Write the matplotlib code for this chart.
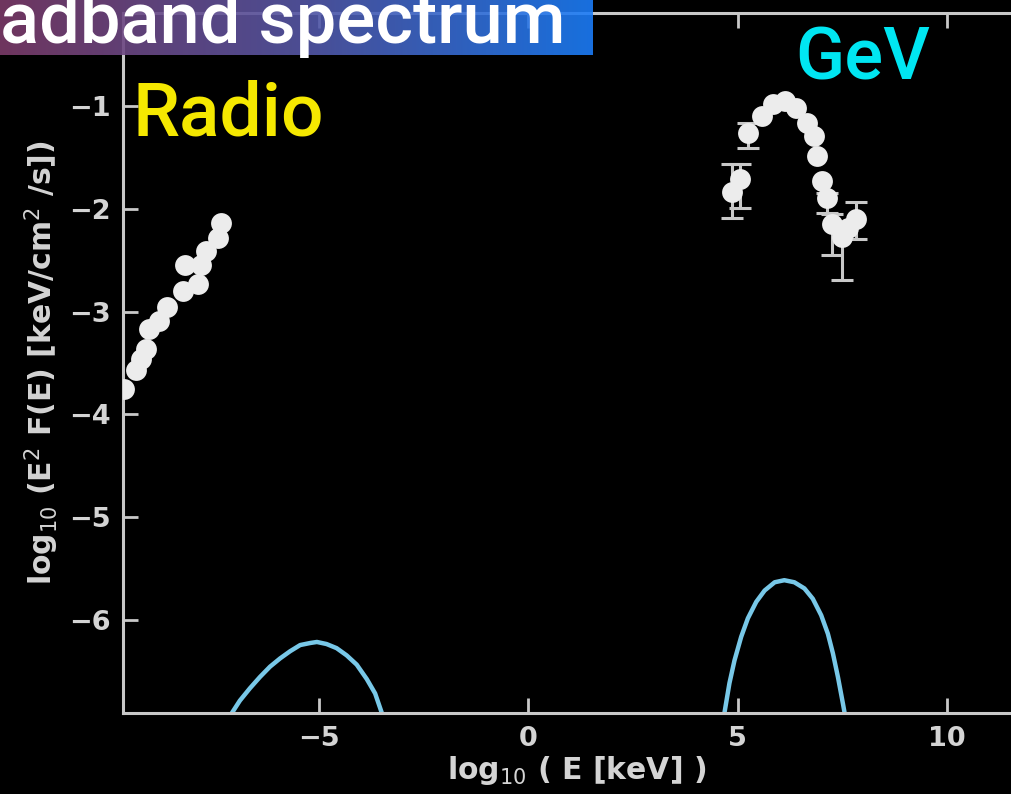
import numpy as np
import matplotlib.pyplot as plt
from matplotlib.colors import LinearSegmentedColormap

# radio points (log10 E [keV], log10 E^2 F)
radio_x = [-9.66, -9.38, -9.24, -9.12, -9.07, -8.83, -8.64, -8.24, -8.21, -7.88, -7.81, -7.69, -7.40, -7.33]
radio_y = [-3.75, -3.57, -3.46, -3.36, -3.17, -3.09, -2.96, -2.80, -2.55, -2.73, -2.55, -2.41, -2.29, -2.14]

# GeV points with asymmetric errors (0 = no bar)
gev_x = [4.86, 5.05, 5.24, 5.57, 5.83, 6.12, 6.40, 6.64, 6.83, 6.90, 7.00, 7.12, 7.26, 7.48, 7.62, 7.83]
gev_y = [-1.84, -1.71, -1.27, -1.10, -0.98, -0.95, -1.02, -1.17, -1.29, -1.49, -1.73, -1.90, -2.15, -2.28, -2.19, -2.10]
gev_lo = [0.25, 0.28, 0.14, 0, 0, 0, 0, 0, 0, 0, 0, 0.14, 0.30, 0.41, 0, 0.20]
gev_hi = [0.27, 0.14, 0.10, 0, 0, 0, 0, 0, 0, 0, 0, 0.05, 0.10, 0.12, 0, 0.16]

# model curves
sync_x = [-7.08, -6.89, -6.65, -6.41, -6.17, -5.93, -5.69, -5.45, -5.21, -5.05,
          -4.82, -4.58, -4.34, -4.10, -3.86, -3.66, -3.50]
sync_y = [-6.90, -6.78, -6.66, -6.55, -6.45, -6.37, -6.30, -6.24, -6.22, -6.21,
          -6.23, -6.27, -6.34, -6.43, -6.57, -6.71, -6.90]
ic_x = [4.68, 4.80, 4.92, 5.08, 5.24, 5.44, 5.64, 5.88, 6.11, 6.35, 6.59,
        6.79, 6.99, 7.15, 7.27, 7.39, 7.51, 7.55]
ic_y = [-6.90, -6.61, -6.39, -6.16, -5.98, -5.82, -5.71, -5.63, -5.61, -5.63, -5.69,
        -5.79, -5.95, -6.13, -6.32, -6.55, -6.81, -6.90]

x_ticks = [-5, 0, 5, 10]
y_ticks = [-6, -5, -4, -3, -2, -1]

FG = '#d4d4d4'
PT = '#ececec'
CURVE = '#78c8e8'

fig = plt.figure(figsize=(10.12, 7.94), dpi=100, facecolor='black')
ax = fig.add_axes([123 / 1012, 81 / 794, 908 / 1012, 700 / 794])
ax.set_facecolor('black')

ax.plot(sync_x, sync_y, color=CURVE, lw=3.2, solid_joinstyle='round')
ax.plot(ic_x, ic_y, color=CURVE, lw=3.2, solid_joinstyle='round')

gx = np.array(gev_x)
gy = np.array(gev_y)
lo = np.array(gev_lo)
hi = np.array(gev_hi)
has_err = (lo > 0) | (hi > 0)
ax.errorbar(gx[has_err], gy[has_err], yerr=[lo[has_err], hi[has_err]], fmt='none',
            ecolor='#c8c8c8', elinewidth=2.2, capsize=8, capthick=2.2, zorder=2)

ax.plot(radio_x, radio_y, 'o', color=PT, ms=15, mec='none', zorder=3)
ax.plot(gev_x, gev_y, 'o', color=PT, ms=15, mec='none', zorder=3)

ax.set_xlim(-9.68, 12)
ax.set_ylim(-6.9, -0.1)
ax.set_xticks(x_ticks)
ax.set_yticks(y_ticks)
ax.set_xticklabels(['\u22125', '0', '5', '10'])
ax.set_yticklabels(['\u22126', '\u22125', '\u22124', '\u22123', '\u22122', '\u22121'])

for s in ax.spines.values():
    s.set_color('#c8c8c8')
    s.set_linewidth(2.2)
ax.tick_params(direction='in', length=11, width=2, color='#c8c8c8',
               top=True, right=True, labelsize=19.5, labelcolor=FG, pad=9)
for lab in ax.get_xticklabels() + ax.get_yticklabels():
    lab.set_fontweight('bold')

ax.set_xlabel(r'log$_{10}$ ( E [keV] )', color=FG, fontsize=21.5, fontweight='bold', labelpad=2)
ax.set_ylabel(r'log$_{10}$ (E$^2$ F(E) [keV/cm$^2$ /s])', color=FG, fontsize=21.5,
              fontweight='bold', labelpad=6)

# annotation labels
fig.text(133 / 1012, 1 - 135 / 794, 'Radio', color='#f5e800', fontsize=54,
         family='Roboto', fontweight='medium', ha='left', va='baseline')
fig.text(795 / 1012, 1 - 80 / 794, 'GeV', color='#00e6f2', fontsize=52,
         family='Roboto', fontweight='medium', ha='left', va='baseline')

# title banner with a purple-to-blue gradient
bax = fig.add_axes([0, 1 - 55 / 794, 593 / 1012, 55 / 794], zorder=5)
grad = np.linspace(0, 1, 256).reshape(1, -1)
cmap = LinearSegmentedColormap.from_list('banner', ['#7c3c6a', '#5656a4', '#1b7df8'])
bax.imshow(grad, aspect='auto', cmap=cmap, alpha=0.9, extent=[0, 1, 0, 1])
bax.set_xlim(0, 1)
bax.set_ylim(0, 1)
bax.axis('off')
bax.patch.set_alpha(0)
bax.text(0.0, 0.22, 'adband spectrum', color='white', fontsize=52,
         family='Roboto', fontweight='medium', ha='left', va='baseline',
         transform=bax.transAxes)

fig.savefig('out.png', dpi=100, facecolor='black')
